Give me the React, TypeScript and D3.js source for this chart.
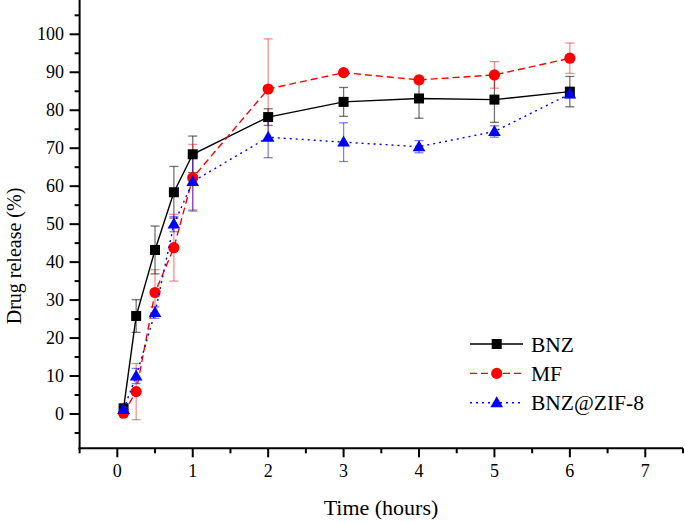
import React from "react";
import * as d3 from "d3";

const times = [0.083, 0.25, 0.5, 0.75, 1, 2, 3, 4, 5, 6];
const bnzValues = [1.5, 25.8, 43.2, 58.4, 68.4, 78.2, 82.2, 83.1, 82.8, 84.9];
const bnzErrors = [0.5, 4.3, 6.3, 6.8, 4.8, 2.2, 3.8, 5.2, 6.0, 4.0];
const mfValues = [0.2, 5.9, 32.0, 43.8, 62.2, 85.6, 89.9, 88.0, 89.3, 93.7];
const mfErrors = [0.3, 7.4, 6.0, 8.8, 8.8, 13.2, 0.8, 1.0, 3.5, 4.0];
const zifValues = [1.2, 10.0, 26.7, 50.0, 61.2, 72.9, 71.6, 70.4, 74.4, 84.3];
const zifErrors = [0.5, 2.0, 1.5, 2.0, 7.5, 5.4, 5.1, 1.6, 1.5, 1.0];

const xMajorTicks = [0, 1, 2, 3, 4, 5, 6, 7];
const xMinorTicks = [-0.5, 0.5, 1.5, 2.5, 3.5, 4.5, 5.5, 6.5, 7.5];
const yMajorTicks = [0, 10, 20, 30, 40, 50, 60, 70, 80, 90, 100];
const yMinorTicks = [-5, 5, 15, 25, 35, 45, 55, 65, 75, 85, 95, 105];

const seriesNames = ["BNZ", "MF", "BNZ@ZIF-8"];

const W = 685;
const H = 522;
const FONT = "'Liberation Serif', 'Times New Roman', serif";

const x = d3.scaleLinear().domain([-0.5, 7.5]).range([79.6, 683]);
const y = d3.scaleLinear().domain([0, 100]).range([414, 34.3]);
const yBottom = 448.3;

type Series = {
  name: string;
  values: number[];
  errors: number[];
  color: string;
  errColor: string;
  dash: string;
  marker: "square" | "circle" | "triangle";
};

const series: Series[] = [
  { name: seriesNames[0], values: bnzValues, errors: bnzErrors, color: "#000000", errColor: "rgba(0,0,0,0.55)", dash: "none", marker: "square" },
  { name: seriesNames[1], values: mfValues, errors: mfErrors, color: "#FF0000", errColor: "rgba(255,0,0,0.45)", dash: "7,4", marker: "circle" },
  { name: seriesNames[2], values: zifValues, errors: zifErrors, color: "#0000FF", errColor: "rgba(0,0,255,0.5)", dash: "2,4", marker: "triangle" },
];

function Marker({ kind, cx, cy, color }: { kind: string; cx: number; cy: number; color: string }) {
  if (kind === "square") return <rect x={cx - 5} y={cy - 5} width={10} height={10} fill={color} />;
  if (kind === "circle") return <circle cx={cx} cy={cy} r={5.6} fill={color} />;
  const s = d3.symbol(d3.symbolTriangle, 70)();
  return <path d={s || ""} transform={`translate(${cx},${cy + 0.8})`} fill={color} />;
}

export default function App() {
  const line = d3.line<[number, number]>().x((d) => x(d[0])).y((d) => y(d[1]));
  return (
    <svg width={W} height={H} style={{ position: "absolute", left: 0, top: 0, background: "#fff" }}>
      <rect width={W} height={H} fill="#fff" />
      {/* error bars */}
      {series.map((s) => (
        <g key={s.name + "err"} stroke={s.errColor} strokeWidth={1.3}>
          {times.map((t, i) => {
            const cx = x(t);
            const top = y(s.values[i] + s.errors[i]);
            const bot = y(s.values[i] - s.errors[i]);
            return (
              <g key={i}>
                <line x1={cx} x2={cx} y1={top} y2={bot} />
                <line x1={cx - 4.5} x2={cx + 4.5} y1={top} y2={top} />
                <line x1={cx - 4.5} x2={cx + 4.5} y1={bot} y2={bot} />
              </g>
            );
          })}
        </g>
      ))}
      {/* lines and markers */}
      {series.map((s) => (
        <g key={s.name}>
          <path
            d={line(times.map((t, i) => [t, s.values[i]] as [number, number])) || ""}
            fill="none"
            stroke={s.color}
            strokeWidth={1.4}
            strokeDasharray={s.dash}
          />
          {times.map((t, i) => (
            <Marker key={i} kind={s.marker} cx={x(t)} cy={y(s.values[i])} color={s.color} />
          ))}
        </g>
      ))}
      {/* axes */}
      <g stroke="#000" strokeWidth={2}>
        <line x1={x(-0.5)} x2={x(-0.5)} y1={0} y2={yBottom + 1} />
        <line x1={x(-0.5) - 1} x2={683} y1={yBottom} y2={yBottom} />
        {yMajorTicks.map((v) => (
          <line key={"ym" + v} x1={x(-0.5) - 10} x2={x(-0.5)} y1={y(v)} y2={y(v)} />
        ))}
        {yMinorTicks.map((v) => (
          <line key={"yn" + v} x1={x(-0.5) - 5} x2={x(-0.5)} y1={y(v)} y2={y(v)} />
        ))}
        {xMajorTicks.map((v) => (
          <line key={"xm" + v} x1={x(v)} x2={x(v)} y1={yBottom} y2={yBottom + 9} />
        ))}
        {xMinorTicks.map((v) => (
          <line key={"xn" + v} x1={x(v)} x2={x(v)} y1={yBottom} y2={yBottom + 5} />
        ))}
      </g>
      <g fontFamily={FONT} fontSize={18} fill="#000">
        {yMajorTicks.map((v) => (
          <text key={"yl" + v} x={64} y={y(v) + 6} textAnchor="end">
            {v}
          </text>
        ))}
        {xMajorTicks.map((v) => (
          <text key={"xl" + v} x={x(v)} y={477.3} textAnchor="middle">
            {v}
          </text>
        ))}
      </g>
      <text x={381} y={515} textAnchor="middle" fontFamily={FONT} fontSize={22} fill="#000">
        Time (hours)
      </text>
      <text transform="translate(20.5,256) rotate(-90)" textAnchor="middle" fontFamily={FONT} fontSize={20} fill="#000">
        Drug release (%)
      </text>
      {/* legend */}
      {series.map((s, i) => {
        const ly = 344 + i * 29.4;
        return (
          <g key={"lg" + s.name}>
            <line x1={470} x2={523} y1={ly} y2={ly} stroke={s.color} strokeWidth={1.4} strokeDasharray={s.dash} />
            <Marker kind={s.marker} cx={496.7} cy={ly} color={s.color} />
            <text x={531} y={ly + 7.5} fontFamily={FONT} fontSize={21.5} fill="#000">
              {s.name}
            </text>
          </g>
        );
      })}
    </svg>
  );
}
